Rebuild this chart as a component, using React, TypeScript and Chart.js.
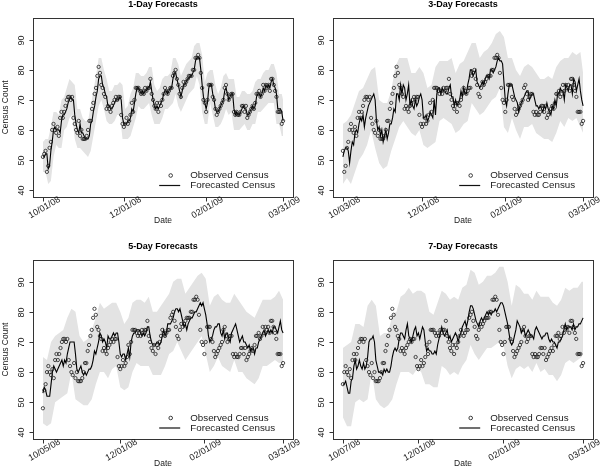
import React, { useEffect, useRef } from "react";
import { Chart, registerables } from "chart.js";
Chart.register(...registerables);

// ---------- DATA (day index 0 = 10/01/08 ... 181 = 03/31/09) ----------
const obsCensus = [
  51, 52, 53, 46, 48, 54, 56, 60, 62, 60,
  59, 61, 58, 64, 66, 64, 66, 68, 70, 71,
  71, 70, 71, 64, 62, 60, 59, 63, 58, 60,
  57, 57, 57, 58, 60, 63, 63, 67, 69, 72,
  74, 78, 81, 79, 75, 74, 72, 71, 67, 68,
  67, 66, 68, 69, 70, 71, 70, 71, 71, 65,
  62, 61, 62, 64, 62, 63, 65, 69, 66, 70,
  74, 74, 74, 73, 72, 73, 72, 74, 73, 74,
  74, 77, 72, 70, 68, 67, 69, 66, 69, 68,
  70, 72, 74, 73, 72, 73, 74, 74, 78, 79,
  80, 77, 75, 72, 71, 74, 76, 75, 76, 77,
  78, 78, 78, 80, 80, 84, 84, 85, 84, 79,
  74, 70, 69, 66, 70, 75, 75, 75, 71, 70,
  67, 65, 66, 67, 68, 69, 70, 74, 75, 72,
  70, 71, 72, 72, 66, 65, 66, 65, 65, 66,
  68, 68, 66, 68, 64, 65, 66, 67, 68, 67,
  69, 72, 72, 73, 71, 72, 75, 73, 75, 74,
  75, 73, 77, 77, 75, 73, 71, 66, 66, 66,
  62, 63,
];

// 1-day forecasts, days 0..181
const forecast1Day = [
  51, 51, 52, 52, 47, 48, 53, 56, 60, 61,
  60, 60, 60, 59, 63, 65, 65, 66, 67, 69,
  70, 71, 70, 70, 65, 62, 60, 59, 62, 59,
  59, 58, 57, 57, 57, 58, 62, 63, 66, 68,
  71, 73, 77, 78, 78, 75, 74, 72, 71, 68,
  68, 67, 67, 68, 69, 70, 70, 70, 71, 70,
  64, 62, 62, 62, 63, 63, 64, 67, 66, 69,
  72, 74, 74, 73, 72, 73, 72, 73, 73, 74,
  74, 76, 73, 70, 68, 67, 68, 67, 68, 69,
  70, 72, 73, 73, 72, 73, 74, 74, 77, 79,
  79, 77, 75, 73, 71, 73, 75, 75, 76, 77,
  77, 78, 78, 79, 80, 83, 84, 84, 84, 80,
  75, 71, 69, 67, 69, 74, 75, 75, 72, 70,
  67, 66, 66, 67, 68, 69, 70, 73, 74, 72,
  70, 71, 72, 72, 67, 65, 66, 65, 65, 66,
  67, 68, 67, 67, 65, 65, 66, 67, 68, 67,
  68, 71, 72, 72, 71, 72, 74, 73, 75, 74,
  75, 74, 76, 77, 75, 74, 72, 67, 67, 67,
  66, 63,
];
// 3-day forecasts, days 2..181
const forecast3Day = [
  51, 53, 54, 54, 53, 49, 53, 56, 55, 59,
  60, 59, 62, 64, 63, 65, 61, 64, 66, 68,
  69, 70, 71, 72, 70, 63, 60, 61, 58, 60,
  56, 58, 60, 57, 59, 62, 62, 64, 67, 66,
  72, 72, 70, 75, 72, 75, 74, 70, 72, 75,
  68, 70, 68, 67, 70, 68, 69, 71, 72, 70,
  64, 64, 65, 63, 64, 66, 65, 64, 70, 65,
  72, 74, 74, 72, 74, 73, 73, 72, 72, 74,
  75, 71, 71, 68, 70, 68, 69, 70, 73, 71,
  74, 72, 72, 75, 77, 80, 80, 78, 79, 80,
  76, 75, 74, 75, 76, 75, 77, 78, 78, 77,
  80, 80, 79, 80, 81, 83, 84, 83, 83, 82,
  76, 70, 68, 72, 75, 75, 75, 73, 71, 70,
  69, 66, 68, 69, 70, 71, 72, 73, 73, 70,
  71, 72, 72, 70, 68, 68, 67, 68, 67, 66,
  68, 67, 69, 67, 66, 65, 68, 67, 70, 68,
  72, 72, 74, 73, 73, 70, 75, 74, 73, 75,
  75, 72, 77, 76, 73, 75, 77, 73, 70, 68,
];
// 5-day forecasts, days 4..181
const forecast5Day = [
  53, 55, 54, 52, 52, 52, 56, 60, 62, 61,
  60, 61, 62, 63, 64, 62, 64, 63, 66, 68,
  70, 70, 70, 70, 66, 61, 60, 61, 62, 60,
  59, 60, 59, 60, 61, 61, 62, 64, 67, 66,
  68, 70, 73, 72, 70, 71, 70, 68, 72, 71,
  71, 72, 73, 72, 73, 73, 70, 66, 65, 66,
  66, 64, 66, 68, 65, 70, 72, 73, 73, 74,
  74, 74, 73, 72, 73, 72, 73, 75, 75, 72,
  70, 69, 69, 69, 70, 70, 69, 70, 72, 74,
  72, 73, 76, 76, 76, 77, 78, 80, 81, 81,
  80, 81, 79, 77, 75, 76, 74, 76, 77, 78,
  78, 79, 80, 80, 81, 82, 83, 82, 83, 81,
  79, 76, 72, 70, 71, 72, 74, 75, 75, 76,
  76, 73, 72, 74, 71, 73, 73, 71, 70, 73,
  74, 75, 76, 74, 72, 70, 71, 72, 70, 70,
  69, 68, 69, 67, 68, 68, 66, 68, 68, 70,
  71, 72, 73, 74, 72, 73, 74, 73, 74, 73,
  75, 75, 74, 73, 75, 77, 74, 73,
];
// 7-day forecasts, days 6..181
const forecast7Day = [
  56, 56, 57, 55, 53, 53, 57, 58, 62, 64,
  61, 62, 64, 62, 61, 63, 61, 62, 65, 70,
  71, 71, 72, 70, 64, 62, 60, 60, 60, 59,
  61, 60, 61, 60, 60, 62, 65, 67, 68, 67,
  68, 71, 73, 73, 72, 71, 74, 76, 72, 71,
  70, 72, 74, 75, 72, 73, 71, 73, 75, 74,
  70, 67, 68, 67, 67, 66, 66, 67, 66, 69,
  71, 73, 75, 73, 72, 73, 74, 71, 72, 70,
  71, 72, 73, 72, 70, 72, 73, 75, 76, 77,
  75, 77, 80, 82, 82, 81, 79, 77, 76, 75,
  77, 78, 77, 78, 79, 80, 79, 80, 79, 80,
  80, 81, 80, 81, 82, 83, 83, 82, 80, 78,
  76, 73, 70, 69, 70, 72, 74, 77, 76, 75,
  73, 74, 74, 72, 73, 74, 73, 72, 72, 71,
  74, 75, 74, 73, 72, 71, 72, 72, 73, 73,
  71, 70, 71, 70, 70, 69, 68, 70, 70, 71,
  72, 74, 76, 74, 75, 75, 75, 74, 76, 74,
  75, 75, 76, 76, 77, 78,
];

// Prediction-interval bands (sampled every 2 days for 1-day, every 3 days otherwise; last sample = day 181)
const band1Lower = [
  46, 46, 42, 43, 51, 55, 54, 54, 60, 61,
  64, 65, 57, 54, 54, 53, 52, 51, 53, 58,
  63, 68, 70, 67, 63, 62, 62, 63, 65, 65,
  57, 57, 57, 58, 61, 64, 68, 67, 67, 68,
  69, 65, 62, 62, 62, 64, 67, 67, 68, 69,
  72, 68, 66, 68, 70, 72, 73, 74, 78, 75,
  66, 62, 62, 69, 65, 61, 61, 62, 64, 67,
  65, 66, 60, 60, 60, 61, 62, 60, 60, 62,
  62, 66, 66, 67, 68, 69, 69, 69, 62, 62,
  58, 58,
];
const band1Upper = [
  56, 57, 57, 61, 66, 66, 65, 70, 71, 74,
  77, 76, 75, 67, 67, 64, 63, 63, 68, 73,
  78, 84, 84, 80, 77, 73, 73, 75, 75, 76,
  75, 67, 68, 72, 74, 79, 79, 78, 78, 79,
  81, 81, 75, 73, 74, 77, 78, 78, 79, 84,
  84, 82, 78, 80, 82, 83, 84, 88, 89, 89,
  85, 76, 79, 80, 80, 75, 72, 74, 78, 79,
  77, 77, 77, 71, 71, 73, 73, 72, 72, 73,
  76, 77, 77, 79, 80, 80, 82, 82, 79, 72,
  72, 70,
];
const band3Lower = [
  42, 44, 42, 46, 50, 52, 55, 60, 54, 49,
  47, 48, 53, 57, 61, 63, 61, 59, 58, 60,
  55, 54, 55, 56, 63, 64, 63, 62, 59, 60,
  62, 63, 69, 67, 65, 66, 68, 70, 71, 74,
  61, 59, 64, 60, 57, 61, 61, 62, 59, 58,
  57, 57, 56, 59, 63, 61, 64, 63, 64, 61,
  59,
];
const band3Upper = [
  62, 63, 65, 69, 73, 74, 77, 80, 81, 70,
  69, 69, 73, 81, 84, 84, 84, 79, 79, 81,
  79, 74, 75, 81, 83, 83, 83, 84, 79, 82,
  83, 86, 89, 89, 84, 86, 87, 89, 92, 93,
  91, 84, 84, 80, 78, 81, 82, 81, 79, 77,
  77, 78, 77, 81, 83, 84, 84, 86, 85, 86,
  79,
];
const band5Lower = [
  43, 42, 43, 50, 51, 52, 53, 60, 51, 50,
  49, 49, 51, 56, 60, 60, 58, 61, 62, 55,
  54, 55, 60, 63, 62, 62, 62, 59, 59, 59,
  62, 66, 67, 70, 67, 64, 66, 68, 70, 72,
  66, 60, 62, 65, 62, 61, 60, 64, 60, 60,
  58, 57, 56, 58, 62, 62, 63, 64, 63, 63,
];
const band5Upper = [
  65, 64, 70, 72, 73, 74, 78, 81, 80, 72,
  70, 71, 74, 78, 83, 81, 82, 83, 83, 80,
  76, 78, 83, 84, 84, 83, 85, 80, 80, 82,
  84, 86, 90, 91, 91, 86, 88, 90, 92, 93,
  91, 82, 85, 86, 84, 83, 83, 86, 84, 82,
  80, 79, 78, 81, 84, 84, 84, 85, 87, 84,
];
const band7Lower = [
  45, 42, 42, 50, 51, 50, 51, 60, 51, 49,
  48, 49, 51, 56, 60, 60, 60, 59, 61, 60,
  56, 56, 55, 55, 62, 61, 59, 60, 59, 62,
  64, 69, 66, 64, 66, 68, 68, 69, 70, 69,
  62, 58, 61, 62, 61, 62, 60, 63, 60, 61,
  59, 59, 57, 59, 63, 64, 63, 64, 65, 66,
];
const band7Upper = [
  68, 69, 70, 76, 76, 75, 82, 84, 82, 72,
  73, 73, 79, 80, 85, 86, 88, 86, 87, 87,
  86, 80, 79, 83, 87, 86, 84, 85, 84, 88,
  89, 94, 93, 89, 90, 92, 92, 93, 95, 95,
  90, 82, 89, 88, 86, 86, 84, 87, 85, 85,
  85, 83, 82, 84, 88, 87, 88, 88, 90, 90,
];

const panelTitles = ["1-Day Forecasts", "3-Day Forecasts", "5-Day Forecasts", "7-Day Forecasts"];
const panelStartDays = [0, 2, 4, 6];
const panelStartLabels = ["10/01/08", "10/03/08", "10/05/08", "10/07/08"];
const commonTickDays = [61, 123, 181];
const commonTickLabels = ["12/01/08", "02/01/09", "03/31/09"];
const bandSteps = [2, 3, 3, 3];
const yTickValues = [40, 50, 60, 70, 80, 90];
const yLimits = [40, 95];
const lastDay = 181;
const legendLabels = ["Observed Census", "Forecasted Census"];

const forecasts = [forecast1Day, forecast3Day, forecast5Day, forecast7Day];
const bandsLower = [band1Lower, band3Lower, band5Lower, band7Lower];
const bandsUpper = [band1Upper, band3Upper, band5Upper, band7Upper];

const FONT = '"Liberation Sans", Arial, Helvetica, sans-serif';

function sampleDays(start: number, step: number): number[] {
  const out: number[] = [];
  for (let d = start; d <= lastDay; d += step) out.push(d);
  if (out[out.length - 1] !== lastDay) out.push(lastDay);
  return out;
}

const rStylePlugin = {
  id: "rStyle",
  afterDraw(chart: any, _args: any, opts: any) {
    const { ctx, chartArea: a } = chart;
    const xs = chart.scales.x;
    const ys = chart.scales.y;
    const f = (s: number, b = false) => `${b ? "bold " : ""}${s}px ${FONT}`;
    ctx.save();
    const L = Math.round(a.left) + 0.5;
    const R = Math.round(a.right) + 0.5;
    const T = Math.round(a.top) + 0.5;
    const B = Math.round(a.bottom) + 0.5;
    ctx.strokeStyle = "#333";
    ctx.lineWidth = 1;
    ctx.strokeRect(L, T, R - L, B - T);
    ctx.fillStyle = "#1a1a1a";
    ctx.textAlign = "center";
    ctx.textBaseline = "middle";
    // y axis
    ctx.font = f(9);
    for (const v of opts.yTicks) {
      const py = Math.round(ys.getPixelForValue(v)) + 0.5;
      ctx.beginPath();
      ctx.moveTo(L - 4, py);
      ctx.lineTo(L, py);
      ctx.stroke();
      ctx.save();
      ctx.translate(a.left - 11.5, py);
      ctx.rotate(-Math.PI / 2);
      ctx.fillText(String(v), 0, 0);
      ctx.restore();
    }
    // x axis
    opts.xTickDays.forEach((d: number, i: number) => {
      const px = Math.round(xs.getPixelForValue(d)) + 0.5;
      ctx.beginPath();
      ctx.moveTo(px, B);
      ctx.lineTo(px, B + 4);
      ctx.stroke();
      ctx.save();
      ctx.translate(px + 1, a.bottom + 11);
      ctx.rotate(-Math.PI / 6);
      ctx.fillText(opts.xTickLabels[i], 0, 0);
      ctx.restore();
    });
    const cx = (a.left + a.right) / 2;
    ctx.font = f(8.5);
    ctx.fillText("Date", cx, a.bottom + 24.5);
    if (opts.showYTitle) {
      ctx.save();
      ctx.translate(5.5, (a.top + a.bottom) / 2);
      ctx.rotate(-Math.PI / 2);
      ctx.fillText("Census Count", 0, 0);
      ctx.restore();
    }
    // title
    ctx.font = f(9, true);
    ctx.fillStyle = "#000";
    ctx.fillText(opts.title, cx, a.top - 13.5);
    // legend
    ctx.font = f(9.8);
    ctx.fillStyle = "#1a1a1a";
    ctx.textAlign = "left";
    const y1 = a.bottom - 21;
    const y2 = a.bottom - 11;
    ctx.beginPath();
    ctx.arc(a.right - 122, y1, 1.8, 0, Math.PI * 2);
    ctx.strokeStyle = "#111";
    ctx.lineWidth = 0.8;
    ctx.stroke();
    ctx.beginPath();
    ctx.moveTo(a.right - 133.5, y2);
    ctx.lineTo(a.right - 112.5, y2);
    ctx.strokeStyle = "#111";
    ctx.lineWidth = 1.2;
    ctx.stroke();
    ctx.fillText(legendLabels[0], a.right - 102.5, y1);
    ctx.fillText(legendLabels[1], a.right - 102.5, y2);
    ctx.restore();
  },
};

function Panel({ idx }: { idx: number }) {
  const ref = useRef<HTMLCanvasElement | null>(null);
  useEffect(() => {
    const canvas = ref.current;
    if (!canvas) return;
    const s = panelStartDays[idx];
    const span = lastDay - s;
    const yr = yLimits[1] - yLimits[0];
    const obsPts = obsCensus
      .map((v, d) => ({ x: d, y: v }))
      .filter((p) => p.x >= s);
    const fcPts = forecasts[idx].map((v, i) => ({ x: s + i, y: v }));
    const days = sampleDays(s, bandSteps[idx]);
    const lo = bandsLower[idx];
    const hi = bandsUpper[idx];
    const n = Math.min(days.length, lo.length, hi.length);
    const loPts = [] as any[];
    const hiPts = [] as any[];
    for (let i = 0; i < n; i++) {
      loPts.push({ x: days[i], y: lo[i] });
      hiPts.push({ x: days[i], y: hi[i] });
    }
    const top = idx < 2;
    const chart = new Chart(canvas, {
      type: "line",
      data: {
        datasets: [
          {
            label: "Observed Census",
            data: obsPts,
            showLine: false,
            pointRadius: 1.65,
            pointBorderWidth: 0.75,
            pointBorderColor: "#151515",
            pointBackgroundColor: "rgba(0,0,0,0)",
            borderColor: "#151515",
            order: 0,
          },
          {
            label: "Forecasted Census",
            data: fcPts,
            borderColor: "#000",
            borderWidth: 1.1,
            pointRadius: 0,
            tension: 0,
            fill: false,
            order: 1,
          },
          {
            label: "lower",
            data: loPts,
            borderColor: "rgba(0,0,0,0)",
            borderWidth: 0.01,
            pointRadius: 0,
            fill: false,
            order: 2,
          },
          {
            label: "upper",
            data: hiPts,
            borderColor: "rgba(0,0,0,0)",
            borderWidth: 0.01,
            pointRadius: 0,
            fill: "-1",
            backgroundColor: "#e3e3e3",
            order: 3,
          },
        ],
      },
      options: {
        responsive: false,
        devicePixelRatio: 1,
        animation: false,
        events: [],
        layout: {
          padding: top
            ? { left: 33.3, right: 7.3, top: 18.3, bottom: 37.5 }
            : { left: 33.3, right: 7.3, top: 26, bottom: 29 },
        },
        scales: {
          x: { type: "linear", display: false, min: s - 0.04 * span, max: lastDay + 0.04 * span },
          y: { type: "linear", display: false, min: yLimits[0] - 0.04 * yr, max: yLimits[1] + 0.04 * yr },
        },
        plugins: {
          legend: { display: false },
          tooltip: { enabled: false },
          title: { display: false },
          rStyle: {
            title: panelTitles[idx],
            yTicks: yTickValues,
            xTickDays: [s, ...commonTickDays],
            xTickLabels: [panelStartLabels[idx], ...commonTickLabels],
            showYTitle: idx % 2 === 0,
          },
        } as any,
      },
      plugins: [rStylePlugin as any],
    } as any);
    return () => chart.destroy();
  }, [idx]);
  return (
    <canvas
      ref={ref}
      width={300}
      height={234}
      style={{
        position: "absolute",
        left: (idx % 2) * 300,
        top: Math.floor(idx / 2) * 234,
        width: 300,
        height: 234,
      }}
    />
  );
}

export default function App() {
  return (
    <div style={{ position: "fixed", left: 0, top: 0, width: 600, height: 468, background: "#fff", overflow: "hidden" }}>
      {[0, 1, 2, 3].map((i) => (
        <Panel key={i} idx={i} />
      ))}
    </div>
  );
}
